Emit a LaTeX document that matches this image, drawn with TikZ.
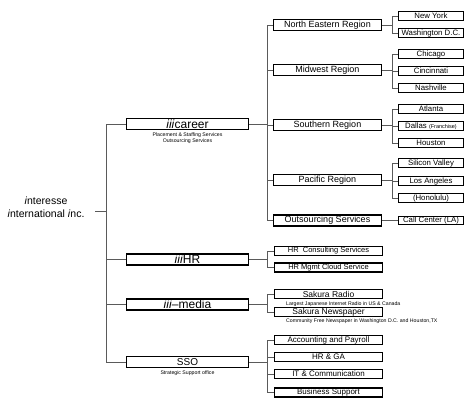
\documentclass[tikz,border=0pt]{standalone}
\usepackage{fontspec}
\setmainfont{Liberation Sans}
\usetikzlibrary{positioning}
\definecolor{linkgray}{RGB}{90,90,90}
\tikzset{
  link/.style={line width=0.7pt,draw=linkgray},
  div box/.style={
    draw=black,
    fill=white,
    line width=1.6pt,
    minimum width=122pt,
    minimum height=11pt,
    inner sep=0pt,
    font=\fontsize{12}{12}\selectfont
  },
  region box/.style={
    draw=black,
    line width=1.3pt,
    minimum width=108pt,
    minimum height=11pt,
    inner sep=0pt,
    font=\fontsize{9}{10}\selectfont
  },
  city box/.style={
    draw=black,
    line width=1.3pt,
    minimum width=65pt,
    minimum height=8.5pt,
    inner sep=0pt,
    font=\fontsize{7.8}{8}\selectfont
  },
  dept box/.style={
    draw=black,
    line width=1.3pt,
    minimum width=108pt,
    minimum height=9pt,
    inner sep=0pt,
    font=\fontsize{8}{8}\selectfont
  },
  note/.style={inner sep=0pt,font=\fontsize{5.2}{6}\selectfont,align=center}
}
\newcommand{\trio}{\textit{iii}}

\begin{document}
\begin{tikzpicture}[x=1pt,y=-1pt]
  \useasboundingbox (0,0) rectangle (474,401);

  % company
  \node[align=center,font=\fontsize{10.5}{13}\selectfont] (root) at (46,207)
    {\textit{i}nteresse\\\textit{i}nternational \textit{i}nc.};
  \coordinate (spine) at (106,211);

  % divisions
  \node[div box] (career) at (187.5,124) {\trio career};
  \node[note,below=2pt of career] (careernote)
    {Placement \& Staffing Services\\Outsourcing Services};
  \node[div box] (hr) at (187.5,259.5) {\trio HR};
  \node[div box] (media) at (187.5,304.5) {\trio–media};
  \node[div box,font=\fontsize{10}{10}\selectfont] (sso) at (187.5,362) {SSO};
  \node[note,below=2pt of sso] (ssonote) {Strategic Support office};

  \draw[link] (spine) -- ++(-11,0);
  \foreach \d in {career,hr,media,sso}
    \draw[link] (spine) |- (\d.west);

  % career regions
  \node[region box] (ne) at (327.5,25) {North Eastern Region};
  \node[region box] (mw) at (327.5,70) {Midwest Region};
  \node[region box] (so) at (327.5,125) {Southern Region};
  \node[region box] (pa) at (327.5,180) {Pacific Region};
  \node[region box] (os) at (327.5,220.5) {Outsourcing Services};
  \foreach \r in {ne,mw,so,pa,os}
    \draw[link] (career.east) -- ++(18,0) |- (\r.west);

  % cities
  \node[city box] (ny) at (431,16) {New York};
  \node[city box] (wdc) at (431,33) {Washington D.C.};
  \node[city box] (chi) at (431,54) {Chicago};
  \node[city box] (cin) at (431,71) {Cincinnati};
  \node[city box] (nas) at (431,88) {Nashville};
  \node[city box] (atl) at (431,109) {Atlanta};
  \node[city box] (dal) at (431,126)
    {Dallas {\fontsize{5.5}{6}\selectfont(Franchise)}};
  \node[city box] (hou) at (431,143) {Houston};
  \node[city box] (sv) at (431,163) {Silicon Valley};
  \node[city box] (la) at (431,181) {Los Angeles};
  \node[city box] (hon) at (431,198) {(Honolulu)};
  \node[city box] (cc) at (431,220.5) {Call Center (LA)};
  \foreach \c in {ny,wdc}
    \draw[link] (ne.east) -- ++(10,0) |- (\c.west);
  \foreach \c in {chi,cin,nas}
    \draw[link] (mw.east) -- ++(10,0) |- (\c.west);
  \foreach \c in {atl,dal,hou}
    \draw[link] (so.east) -- ++(10,0) |- (\c.west);
  \foreach \c in {sv,la,hon}
    \draw[link] (pa.east) -- ++(10,0) |- (\c.west);
  \draw[link] (os.east) -- (cc.west);

  % HR
  \node[dept box,font=\fontsize{7.5}{8}\selectfont] (hrc) at (328.5,251)
    {HR\ \ Consulting Services};
  \node[dept box,font=\fontsize{7.5}{8}\selectfont] (hrm) at (328.5,267.5)
    {HR Mgmt Cloud Service};
  \foreach \c in {hrc,hrm}
    \draw[link] (hr.east) -- ++(18,0) |- (\c.west);

  % media
  \node[dept box,font=\fontsize{8.5}{9}\selectfont] (radio) at (328.5,294)
    {Sakura Radio};
  \node[dept box,font=\fontsize{8.5}{9}\selectfont] (news) at (328.5,312)
    {Sakura Newspaper};
  \node[note,anchor=west] (radionote) at (286,304)
    {Largest Japanese Internet Radio in US \& Canada};
  \node[note,anchor=west] (newsnote) at (286,321.5)
    {Community Free Newspaper in Washington D.C. and Houston,TX};
  \foreach \c in {radio,news}
    \draw[link] (media.east) -- ++(18,0) |- (\c.west);

  % SSO
  \node[dept box] (acc) at (328.5,340) {Accounting and Payroll};
  \node[dept box] (hrga) at (328.5,357) {HR \& GA};
  \node[dept box] (it) at (328.5,374) {IT \& Communication};
  \node[dept box] (bus) at (328.5,392.5) {Business Support};
  \foreach \c in {acc,hrga,it,bus}
    \draw[link] (sso.east) -- ++(18,0) |- (\c.west);
\end{tikzpicture}
\end{document}
